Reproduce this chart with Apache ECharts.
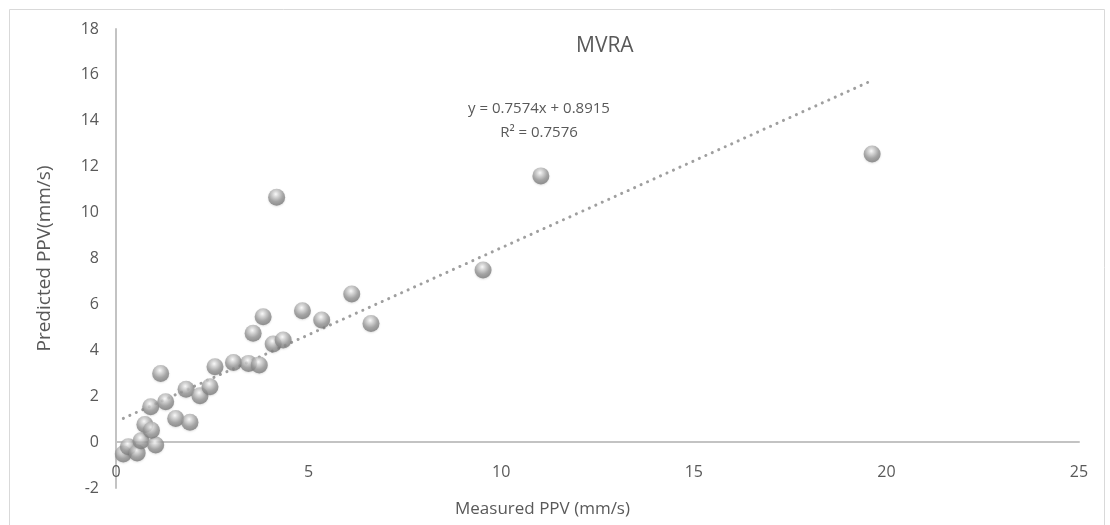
<!DOCTYPE html>
<html>
<head>
<meta charset="utf-8">
<title>MVRA</title>
<script src="https://cdn.jsdelivr.net/npm/echarts@6/dist/echarts.min.js"></script>
<style>
  html, body { margin: 0; padding: 0; background: #ffffff; }
  #chart { width: 1110px; height: 525px; }
</style>
</head>
<body>
<div id="chart"></div>
<script>
// Measured vs. predicted peak particle velocity (mm/s)
const measuredPPV = [0.19, 0.32, 0.55, 0.65, 1.03, 0.75, 0.92, 0.90, 1.29, 1.55,
                     1.92, 1.82, 2.18, 2.44, 1.16, 2.57, 3.05, 3.44, 3.72, 3.56,
                     3.82, 4.08, 4.34, 4.17, 4.84, 5.34, 6.12, 6.62, 9.53, 11.03, 19.63];
const predictedPPV = [-0.52, -0.20, -0.47, 0.06, -0.13, 0.77, 0.52, 1.54, 1.76, 1.03,
                      0.86, 2.30, 2.02, 2.41, 2.99, 3.28, 3.47, 3.43, 3.36, 4.74,
                      5.46, 4.27, 4.45, 10.67, 5.72, 5.32, 6.45, 5.17, 7.50, 11.60, 12.55];

// Linear fit reported for the data
const fitSlope = 0.7574;
const fitIntercept = 0.8915;
const fitR2 = 0.7576;

const xTicks = [0, 5, 10, 15, 20, 25];
const yTicks = [-2, 0, 2, 4, 6, 8, 10, 12, 14, 16, 18];

const points = measuredPPV.map((x, i) => [x, predictedPPV[i]]);
const xMin = Math.min(...measuredPPV);
const xMax = Math.max(...measuredPPV);
const fitLine = [xMin, xMax].map(x => [x, fitSlope * x + fitIntercept]);

const textColor = '#595959';
const axisColor = '#c3c3c3';
const fontFamily = '"Open Sans", "Noto Sans", sans-serif';

const sphere = {
  type: 'radial', x: 0.45, y: 0.32, r: 0.72,
  colorStops: [
    { offset: 0, color: '#ffffff' },
    { offset: 0.22, color: '#d6d6d6' },
    { offset: 0.6, color: '#959595' },
    { offset: 1, color: '#737373' }
  ]
};

const chart = echarts.init(document.getElementById('chart'), null, { renderer: 'canvas' });

chart.setOption({
  animation: false,
  backgroundColor: '#ffffff',
  textStyle: { fontFamily },
  title: {
    text: 'MVRA',
    left: 571,
    top: 31,
    textStyle: { color: textColor, fontSize: 21, fontWeight: 'normal', fontFamily }
  },
  graphic: [
    {
      type: 'rect',
      silent: true,
      shape: { x: 9.5, y: 9.5, width: 1095, height: 540 },
      style: { fill: 'none', stroke: '#d9d9d9', lineWidth: 1 }
    },
    {
      type: 'text',
      x: 539,
      y: 97,
      style: {
        text: 'y = ' + fitSlope + 'x + ' + fitIntercept + '\nR² = ' + fitR2,
        fill: textColor,
        font: '15px ' + fontFamily,
        align: 'center',
        lineHeight: 24
      }
    }
  ],
  grid: { left: 116, right: 31, top: 29, bottom: 37, containLabel: false, outerBoundsMode: 'none' },
  xAxis: {
    type: 'value',
    min: xTicks[0],
    max: xTicks[xTicks.length - 1],
    interval: 5,
    name: 'Measured PPV (mm/s)',
    nameLocation: 'middle',
    nameGap: 13,
    nameTextStyle: { color: textColor, fontSize: 17, padding: [0, 110, 0, 0] },
    axisLine: { show: true, onZero: true, lineStyle: { color: axisColor, width: 2 } },
    axisTick: { show: false },
    splitLine: { show: false },
    axisLabel: { color: textColor, fontSize: 16, margin: -24 }
  },
  yAxis: {
    type: 'value',
    min: yTicks[0],
    max: yTicks[yTicks.length - 1],
    interval: 2,
    name: 'Predicted PPV(mm/s)',
    nameLocation: 'middle',
    nameGap: 62,
    nameTextStyle: { color: textColor, fontSize: 19 },
    axisLine: { show: true, onZero: false, lineStyle: { color: axisColor, width: 2 } },
    axisTick: { show: false },
    splitLine: { show: false },
    axisLabel: { color: textColor, fontSize: 16, margin: 17 }
  },
  series: [
    {
      name: 'Linear fit',
      type: 'line',
      data: fitLine,
      symbol: 'none',
      silent: true,
      z: 1,
      lineStyle: { color: '#9f9f9f', width: 3, type: [0.1, 7], cap: 'round' }
    },
    {
      name: 'MVRA',
      type: 'scatter',
      data: points,
      symbol: 'circle',
      symbolSize: 17,
      z: 3,
      itemStyle: { color: sphere, shadowColor: 'rgba(0,0,0,0.15)', shadowBlur: 2, shadowOffsetY: 1 }
    }
  ]
});
</script>
</body>
</html>
